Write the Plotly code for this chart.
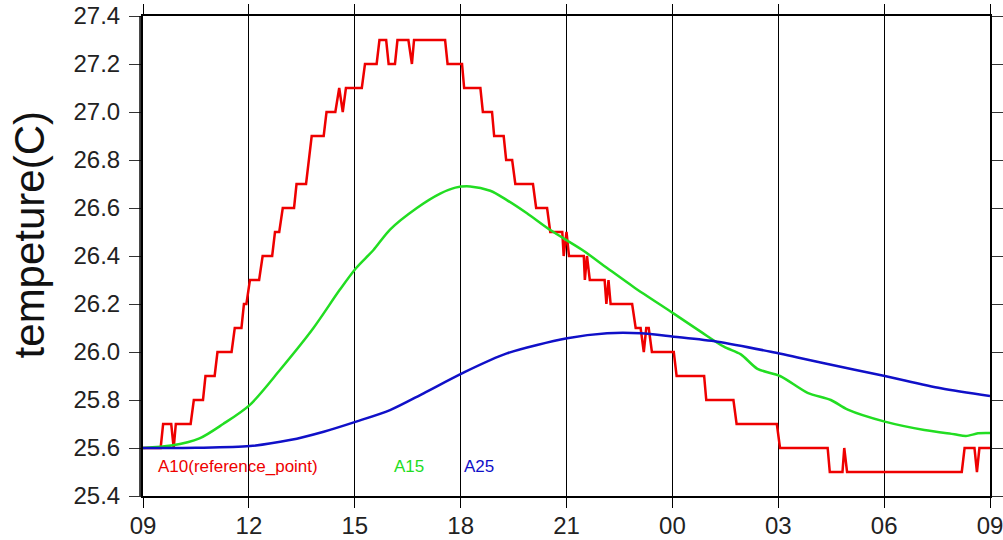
import plotly.graph_objects as go

# Hours since 09:00
red_t = [0, 0.50, 0.57, 0.80, 0.87, 0.93, 1.35, 1.44, 1.70, 1.77, 2.03, 2.11, 2.51, 2.60,
         2.79, 2.86, 2.93, 3.03, 3.29, 3.39, 3.66, 3.74, 3.86, 3.96, 4.28, 4.35, 4.62, 4.78,
         5.12, 5.20, 5.45, 5.54, 5.56, 5.66, 5.75, 6.20, 6.29, 6.62, 6.70, 6.89, 6.96, 7.14,
         7.21, 7.52, 7.62, 7.68, 8.56, 8.63, 9.04, 9.10, 9.56, 9.63, 9.89, 9.95, 10.22, 10.29,
         10.46, 10.55, 11.05, 11.14, 11.45, 11.54, 11.88, 11.92, 12.00, 12.07, 12.49, 12.52,
         12.58, 12.66, 13.08, 13.13, 13.19, 13.25, 13.86, 13.96, 14.10, 14.19, 14.26, 14.33,
         14.42, 15.04, 15.12, 15.90, 15.96, 16.73, 16.82, 17.96, 18.05, 19.40, 19.46, 19.82,
         19.87, 19.95, 23.20, 23.28, 23.56, 23.63, 23.70, 24.0]
red_v = [25.6, 25.6, 25.7, 25.7, 25.6, 25.7, 25.7, 25.8, 25.8, 25.9, 25.9, 26.0, 26.0, 26.1,
         26.1, 26.2, 26.2, 26.3, 26.3, 26.4, 26.4, 26.5, 26.5, 26.6, 26.6, 26.7, 26.7, 26.9,
         26.9, 27.0, 27.0, 27.1, 27.1, 27.0, 27.1, 27.1, 27.2, 27.2, 27.3, 27.3, 27.2, 27.2,
         27.3, 27.3, 27.2, 27.3, 27.3, 27.2, 27.2, 27.1, 27.1, 27.0, 27.0, 26.9, 26.9, 26.8,
         26.8, 26.7, 26.7, 26.6, 26.6, 26.5, 26.5, 26.4, 26.5, 26.4, 26.4, 26.3,
         26.4, 26.3, 26.3, 26.2, 26.3, 26.2, 26.2, 26.1, 26.1, 26.0, 26.1, 26.1,
         26.0, 26.0, 25.9, 25.9, 25.8, 25.8, 25.7, 25.7, 25.6, 25.6, 25.5, 25.5,
         25.6, 25.5, 25.5, 25.6, 25.6, 25.5, 25.6, 25.6]

green_t = [0, 0.8, 1.6, 2.27, 3.03, 3.88, 4.83, 5.58, 6.04, 6.53, 7.0, 7.76, 8.42, 8.85,
           9.27, 9.84, 10.31, 10.88, 11.54, 12.45, 13.15, 13.91, 15.04, 15.80, 16.46, 16.94,
           17.41, 18.05, 18.83, 19.49, 19.97, 21.02, 22.14, 22.99, 23.32, 23.66, 24.0]
green_v = [25.6, 25.61, 25.64, 25.70, 25.78, 25.925, 26.10, 26.26, 26.35, 26.425, 26.51,
           26.60, 26.66, 26.685, 26.69, 26.672, 26.633, 26.578, 26.508, 26.425, 26.35, 26.27,
           26.16, 26.085, 26.022, 25.99, 25.93, 25.90, 25.83, 25.80, 25.76, 25.71, 25.675,
           25.657, 25.65, 25.661, 25.662]

blue_t = [0, 1.5, 3.03, 4.16, 5.12, 6.04, 7.0, 7.95, 9.04, 10.31, 12.02, 13.15, 14.10,
          15.04, 16.28, 17.79, 19.30, 21.02, 22.61, 24.0]
blue_v = [25.6, 25.601, 25.608, 25.633, 25.668, 25.71, 25.758, 25.828, 25.911, 25.994,
          26.057, 26.078, 26.078, 26.064, 26.043, 26.001, 25.953, 25.90, 25.849, 25.817]

tick_hours = [0, 3, 6, 9, 12, 15, 18, 21, 24]
tick_text = ["09", "12", "15", "18", "21", "00", "03", "06", "09"]

series_labels = ["A10(reference_point)", "A15", "A25"]
label_t = [0.38, 7.05, 9.04]
label_v = 25.522

RED, GREEN, BLUE = "#ee0000", "#22dd22", "#1010c8"

fig = go.Figure()
fig.add_trace(go.Scatter(x=red_t, y=red_v, mode="lines", line=dict(color=RED, width=2.5)))
fig.add_trace(go.Scatter(x=green_t, y=green_v, mode="lines",
                         line=dict(color=GREEN, width=2.5, shape="spline", smoothing=0.8)))
fig.add_trace(go.Scatter(x=blue_t, y=blue_v, mode="lines",
                         line=dict(color=BLUE, width=2.5, shape="spline", smoothing=0.8)))

for txt, t, c in zip(series_labels, label_t, [RED, GREEN, BLUE]):
    fig.add_annotation(x=t, y=label_v, text=txt, showarrow=False, xanchor="left",
                       yanchor="middle", font=dict(family="Liberation Sans, Arial", size=17, color=c))

fig.add_annotation(xref="paper", yref="paper", x=-0.1346, y=0.545, text="tempeture(C)",
                   textangle=-90, showarrow=False, xanchor="center", yanchor="middle",
                   font=dict(family="Liberation Sans, Arial", size=42, color="#111111"))

# double left edge line
fig.add_shape(type="line", xref="paper", yref="paper", x0=-0.0035, x1=-0.0035, y0=0, y1=1,
              line=dict(color="black", width=1.5))

fig.update_layout(
    width=1003, height=540,
    margin=dict(l=143, r=13, t=16, b=44, autoexpand=False),
    paper_bgcolor="white", plot_bgcolor="white",
    showlegend=False,
    font=dict(family="Liberation Sans, Arial", color="#222222"),
    xaxis=dict(range=[0, 24], tickvals=tick_hours, ticktext=tick_text, automargin=False,
               showgrid=True, gridcolor="black", gridwidth=1, zeroline=False,
               showline=True, linecolor="black", linewidth=2, mirror="ticks",
               ticks="outside", ticklen=10, tickcolor="black", tickwidth=1,
               ticklabeloverflow="allow", ticklabelstandoff=-3,
               tickfont=dict(size=24)),
    yaxis=dict(range=[25.4, 27.4], dtick=0.2, tick0=25.4, tickformat=".1f", automargin=False,
               showgrid=False, zeroline=False,
               showline=True, linecolor="black", linewidth=2, mirror="ticks",
               ticks="outside", ticklen=12, tickcolor="#333333", tickwidth=1,
               ticklabeloverflow="allow", ticklabelstandoff=4,
               tickfont=dict(size=24)),
)

# remove the default 8px page margin so the 1003x540 figure fills the window
fig.write_html("out.html", config={"displayModeBar": False},
               post_script="document.body.style.margin='0';document.body.style.overflow='hidden';")
